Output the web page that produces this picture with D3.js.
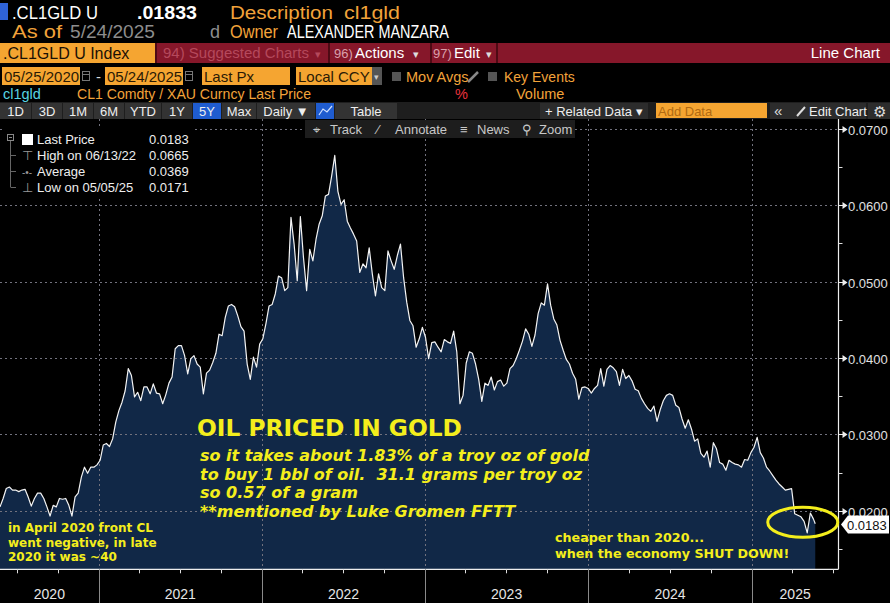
<!DOCTYPE html>
<html>
<meta charset="UTF-8" />
<script src="https://cdn.jsdelivr.net/npm/d3@7"></script>
<style>
*{margin:0; padding:0;}
body{background:#000; width:890px; height:603px; overflow:hidden;}
</style>
<body>
<div id="chart"></div>
<script>
// weekly closes of CL1 / XAU, first week starts 05/25/2020
var startDate = "2020-05-25";
var weeklyValues = [
	0.0205, 0.0216, 0.0229, 0.0231, 0.0227, 0.0227, 0.0225, 0.0227, 0.0228, 0.0218,
	0.0206, 0.0216, 0.0223, 0.0223, 0.0216, 0.0205, 0.0193, 0.0207, 0.0205, 0.0216,
	0.0215, 0.0216, 0.0207, 0.0193, 0.0218, 0.0223, 0.0244, 0.0257, 0.0249, 0.0257,
	0.0257, 0.0260, 0.0266, 0.0286, 0.0288, 0.0284, 0.0294, 0.0316, 0.0331, 0.0342,
	0.0357, 0.0386, 0.0377, 0.0349, 0.0355, 0.0344, 0.0362, 0.0362, 0.0353, 0.0366,
	0.0354, 0.0353, 0.0340, 0.0352, 0.0367, 0.0375, 0.0412, 0.0416, 0.0416, 0.0403,
	0.0379, 0.0399, 0.0403, 0.0392, 0.0388, 0.0353, 0.0380, 0.0384, 0.0394, 0.0406,
	0.0431, 0.0429, 0.0453, 0.0468, 0.0470, 0.0467, 0.0455, 0.0441, 0.0435, 0.0392,
	0.0372, 0.0401, 0.0388, 0.0418, 0.0425, 0.0445, 0.0468, 0.0470, 0.0484, 0.0507,
	0.0505, 0.0488, 0.0492, 0.0584, 0.0549, 0.0501, 0.0585, 0.0531, 0.0488, 0.0542,
	0.0527, 0.0555, 0.0575, 0.0586, 0.0612, 0.0614, 0.0638, 0.0665, 0.0618, 0.0601,
	0.0607, 0.0579, 0.0570, 0.0562, 0.0553, 0.0512, 0.0523, 0.0518, 0.0544, 0.0510,
	0.0481, 0.0510, 0.0492, 0.0488, 0.0540, 0.0527, 0.0516, 0.0534, 0.0549, 0.0505,
	0.0473, 0.0449, 0.0442, 0.0414, 0.0425, 0.0440, 0.0427, 0.0399, 0.0420, 0.0421,
	0.0414, 0.0408, 0.0424, 0.0421, 0.0419, 0.0435, 0.0408, 0.0340, 0.0351, 0.0393,
	0.0408, 0.0406, 0.0392, 0.0372, 0.0343, 0.0367, 0.0364, 0.0375, 0.0358, 0.0369,
	0.0371, 0.0363, 0.0367, 0.0386, 0.0390, 0.0399, 0.0410, 0.0422, 0.0438, 0.0431,
	0.0415, 0.0430, 0.0458, 0.0472, 0.0469, 0.0497, 0.0469, 0.0451, 0.0443, 0.0423,
	0.0410, 0.0398, 0.0392, 0.0380, 0.0372, 0.0346, 0.0361, 0.0362, 0.0360, 0.0354,
	0.0360, 0.0364, 0.0386, 0.0363, 0.0385, 0.0390, 0.0387, 0.0382, 0.0364, 0.0385,
	0.0373, 0.0377, 0.0370, 0.0359, 0.0357, 0.0347, 0.0340, 0.0334, 0.0330, 0.0337,
	0.0317, 0.0332, 0.0344, 0.0351, 0.0353, 0.0351, 0.0338, 0.0335, 0.0320, 0.0308,
	0.0319, 0.0307, 0.0291, 0.0294, 0.0275, 0.0270, 0.0278, 0.0257, 0.0289, 0.0281,
	0.0263, 0.0261, 0.0253, 0.0266, 0.0263, 0.0261, 0.0260, 0.0257, 0.0267, 0.0266,
	0.0276, 0.0283, 0.0296, 0.0276, 0.0269, 0.0257, 0.0252, 0.0246, 0.0240, 0.0235,
	0.0231, 0.0227, 0.0228, 0.0229, 0.0196, 0.0194, 0.0192, 0.0186, 0.0171, 0.0197,
	0.0189
];
var lastDate = "2025-05-23";
var lastPrice = 0.0183;

var yTicks = [0.07, 0.06, 0.05, 0.04, 0.03, 0.02];
var yMinorTicks = [0.065, 0.055, 0.045, 0.035, 0.025, 0.015];
var yearLabels = ["2020", "2021", "2022", "2023", "2024", "2025"];

var legendRows = [
	["Last Price", "0.0183"],
	["High on 06/13/22", "0.0665"],
	["Average", "0.0369"],
	["Low on 05/05/25", "0.0171"]
];

var bigNote = ["so it takes about 1.83% of a troy oz of gold",
	"to buy 1 bbl of oil.  31.1 grams per troy oz",
	"so 0.57 of a gram",
	"**mentioned by Luke Gromen FFTT"];
var leftNote = ["in April 2020 front CL", "went negative, in late", "2020 it was ~40"];
var rightNote = ["cheaper than 2020...", "when the economy SHUT DOWN!"];

var W = 890, H = 603;
var ORANGE = "#f2a33a", YEL = "#f4ee1c";
var UI = "Liberation Sans", NOTE = "DejaVu Sans";
var parse = d3.timeParse("%Y-%m-%d");

var data = weeklyValues.map(function(v, i) {
	return {date: d3.timeDay.offset(parse(startDate), i * 7), value: v};
});
data.push({date: parse(lastDate), value: lastPrice});

var svg = d3.select("#chart").append("svg")
	.attr("width", W).attr("height", H);
svg.append("rect").attr("width", W).attr("height", H).attr("fill", "#000");

// ---------- header ----------
function txt(g, x, y, s, size, color, extra) {
	var t = g.append("text").attr("x", x).attr("y", y).text(s)
		.style("font-family", UI).style("white-space", "pre")
		.attr("font-size", size).attr("fill", color);
	if (extra) for (var k in extra) {
		if (k == "font-family") t.style(k, extra[k]);
		else t.attr(k, extra[k]);
	}
	return t;
}
function fit(t, len) {
	return t.attr("textLength", len).attr("lengthAdjust", "spacingAndGlyphs");
}
var hd = svg.append("g");
hd.append("rect").attr("x", 0).attr("y", 3).attr("width", 8).attr("height", 17).attr("fill", "#2f63d8");
fit(txt(hd, 12, 19, ".CL1GLD U", 18, "#fff"), 86);
fit(txt(hd, 137, 19, ".01833", 18, "#fff", {"font-weight": "bold"}), 60);
fit(txt(hd, 230, 19, "Description", 18, ORANGE), 103);
fit(txt(hd, 344, 19, "cl1gld", 18, ORANGE), 56);
fit(txt(hd, 12, 38, "As of", 18, ORANGE), 50);
fit(txt(hd, 70, 38, "5/24/2025", 18, "#8d8d8d"), 85);
txt(hd, 210, 38, "d", 18, "#8d8d8d");
fit(txt(hd, 230, 38, "Owner", 18, ORANGE), 48);
fit(txt(hd, 287, 38, "ALEXANDER MANZARA", 18, "#fff"), 162);

// red action bar
hd.append("rect").attr("x", 0).attr("y", 43).attr("width", W).attr("height", 20).attr("fill", "#86172a");
hd.append("rect").attr("x", 0).attr("y", 43).attr("width", 155).attr("height", 20).attr("fill", "#f5a531");
txt(hd, 3, 59, ".CL1GLD U Index", 16, "#1a1005");
[155, 328, 430, 496].forEach(function(x) {
	hd.append("rect").attr("x", x).attr("y", 43).attr("width", 2).attr("height", 20).attr("fill", "#4e0a14");
});
fit(txt(hd, 163, 58, "94) Suggested Charts", 14, "#b5495c"), 146);
txt(hd, 315, 58, "\u25BE", 11, "#b5495c");
txt(hd, 334, 58, "96)", 13, "#d9a0aa");
txt(hd, 355, 58, "Actions", 15, "#fff");
txt(hd, 413, 58, "\u25BE", 11, "#ddd");
txt(hd, 433, 58, "97)", 13, "#d9a0aa");
txt(hd, 454, 58, "Edit", 15, "#fff");
txt(hd, 486, 58, "\u25BE", 11, "#ddd");
txt(hd, 880, 58, "Line Chart", 15, "#fff", {"text-anchor": "end"});

// date range row
[[2, 78, "05/25/2020"], [105, 78, "05/24/2025"], [202, 88, "Last Px"], [296, 76, "Local CCY"]].forEach(function(b) {
	hd.append("rect").attr("x", b[0]).attr("y", 67).attr("width", b[1]).attr("height", 18).attr("fill", "#f5a531");
	txt(hd, b[0] + 2, 82, b[2], 15, "#2a1a05");
});
[82, 185].forEach(function(x) {
	hd.append("rect").attr("x", x + 0.5).attr("y", 71.5).attr("width", 7).attr("height", 9)
		.attr("fill", "none").attr("stroke", "#777");
	hd.append("line").attr("x1", x).attr("x2", x + 8).attr("y1", 74.5).attr("y2", 74.5).attr("stroke", "#777");
});
txt(hd, 96, 82, "-", 15, "#ddd");
hd.append("rect").attr("x", 372).attr("y", 67).attr("width", 10).attr("height", 18).attr("fill", "#555");
txt(hd, 374, 80, "\u25BE", 9, "#ccc");
[392, 488].forEach(function(x) {
	hd.append("rect").attr("x", x).attr("y", 72).attr("width", 9).attr("height", 9).attr("fill", "#555");
});
txt(hd, 406, 82, "Mov Avgs", 14.5, ORANGE);
hd.append("line").attr("x1", 468).attr("y1", 82).attr("x2", 478).attr("y2", 72)
	.attr("stroke", "#888").attr("stroke-width", 2.5);
txt(hd, 504, 82, "Key Events", 14, ORANGE);

txt(hd, 3, 99, "cl1gld", 14.5, "#58d4e3");
fit(txt(hd, 77, 99, "CL1 Comdty / XAU Curncy Last Price", 14.5, ORANGE), 234);
txt(hd, 455, 99, "%", 14.5, "#e8323c");
txt(hd, 516, 99, "Volume", 14.5, ORANGE);

// period toolbar
hd.append("rect").attr("x", 0).attr("y", 102).attr("width", W).attr("height", 17).attr("fill", "#1e1e1e");
var periods = [[0, 31, "1D"], [32, 30, "3D"], [63, 30, "1M"], [94, 30, "6M"], [125, 36, "YTD"],
	[162, 30, "1Y"], [193, 28, "5Y"], [222, 34, "Max"], [257, 58, "Daily \u25BC"], [316, 18, ""], [335, 62, "Table"]];
periods.forEach(function(p) {
	var sel = p[2] == "5Y" || p[2] == "";
	hd.append("rect").attr("x", p[0]).attr("y", 103).attr("width", p[1]).attr("height", 16)
		.attr("fill", sel ? "#1f5ccf" : "#333");
	txt(hd, p[0] + p[1] / 2, 116, p[2], 13, "#eee", {"text-anchor": "middle"});
});
hd.append("path").attr("d", "M319,115 L323,109 L327,112 L332,106")
	.attr("fill", "none").attr("stroke", "#cfe0ff").attr("stroke-width", 1.2);
hd.append("rect").attr("x", 540).attr("y", 103).attr("width", 108).attr("height", 16).attr("fill", "#2c2c2c");
txt(hd, 545, 116, "+ Related Data \u25BE", 13, "#eee");
hd.append("rect").attr("x", 656).attr("y", 103).attr("width", 111).attr("height", 15).attr("fill", "#f5a531");
txt(hd, 658, 116, "Add Data", 13, "#b06a12");
hd.append("rect").attr("x", 770).attr("y", 103).attr("width", 96).attr("height", 16).attr("fill", "#2c2c2c");
txt(hd, 774, 116, "\u00AB", 15, "#ddd");
hd.append("line").attr("x1", 797).attr("y1", 116).attr("x2", 805).attr("y2", 107)
	.attr("stroke", "#ddd").attr("stroke-width", 2);
txt(hd, 809, 116, "Edit Chart", 13, "#eee");
hd.append("rect").attr("x", 868).attr("y", 103).attr("width", 22).attr("height", 16).attr("fill", "#2c2c2c");
txt(hd, 879, 117, "\u2699", 15, "#ddd", {"text-anchor": "middle"});

// ---------- chart ----------
var plotTop = 119, plotBottom = 569.3, plotRight = 838.5;
var x = d3.scaleTime()
	.domain([parse("2020-05-25"), parse("2025-07-14")])
	.range([0, plotRight]);
var y = d3.scaleLinear()
	.domain([0.01233, 0.07127])
	.range([plotBottom, plotTop]);

var area = d3.area()
	.x(function(d){ return x(d.date); })
	.y0(plotBottom)
	.y1(function(d){ return y(d.value); });
svg.append("path").datum(data).attr("d", area).attr("fill", "#112847");

var grid = svg.append("g");
var years = d3.timeYear.range(parse("2021-01-01"), parse("2025-06-01"));
grid.selectAll(".vg").data(years).enter().append("line")
	.attr("x1", function(d){ return Math.round(x(d)) + 0.5; })
	.attr("x2", function(d){ return Math.round(x(d)) + 0.5; })
	.attr("y1", plotTop).attr("y2", plotBottom)
	.attr("stroke", "#72727e").attr("stroke-dasharray", "2,3");
grid.selectAll(".hg").data(yTicks).enter().append("line")
	.attr("x1", 0).attr("x2", plotRight)
	.attr("y1", function(d){ return Math.round(y(d)) + 0.5; })
	.attr("y2", function(d){ return Math.round(y(d)) + 0.5; })
	.attr("stroke", "#72727e").attr("stroke-dasharray", "2,3");

var line = d3.line()
	.x(function(d){ return x(d.date); })
	.y(function(d){ return y(d.value); });
svg.append("path").datum(data).attr("d", line)
	.attr("fill", "none").attr("stroke", "#f4f4f4").attr("stroke-width", 1.2)
	.attr("stroke-linejoin", "round");

// top strip (track / annotate / news / zoom)
var strip = svg.append("g");
strip.append("rect").attr("x", 305).attr("y", 120).attr("width", 270).attr("height", 18).attr("fill", "#1d1d1d");
[[313, "\u2316"], [330, "Track"], [377, "\u2215"], [395, "Annotate"], [460, "\u2261"], [477, "News"], [522, "\u26B2"], [539, "Zoom"]]
	.forEach(function(t) {
		txt(strip, t[0], 134, t[1], 13, "#c8c8c8");
	});

// legend
var lg = svg.append("g");
lg.append("rect").attr("x", 2).attr("y", 129).attr("width", 193).attr("height", 69).attr("fill", "#000");
lg.append("rect").attr("x", 7.5).attr("y", 134.5).attr("width", 6).attr("height", 6).attr("fill", "none").attr("stroke", "#888");
lg.append("line").attr("x1", 9).attr("x2", 12).attr("y1", 137.5).attr("y2", 137.5).attr("stroke", "#888");
lg.append("line").attr("x1", 10.5).attr("x2", 10.5).attr("y1", 141).attr("y2", 187).attr("stroke", "#666");
lg.append("rect").attr("x", 22).attr("y", 134).attr("width", 11).attr("height", 11).attr("fill", "#fff");
legendRows.forEach(function(r, i) {
	var by = 144 + i * 16;
	if (i > 0) {
		lg.append("line").attr("x1", 10.5).attr("x2", 16).attr("y1", by - 4.5).attr("y2", by - 4.5).attr("stroke", "#666");
		txt(lg, 27, by, ["", "\u22A4", "-\u2022-", "\u22A5"][i], i == 2 ? 10 : 13, "#999", {"text-anchor": "middle"});
	}
	txt(lg, 37, by, r[0], 13, "#eee");
	txt(lg, 149, by, r[1], 13, "#eee");
});

// axes
var ax = svg.append("g");
ax.append("line").attr("x1", 0).attr("x2", plotRight).attr("y1", plotBottom).attr("y2", plotBottom)
	.attr("stroke", "#eee").attr("stroke-width", 1.2);
ax.append("line").attr("x1", plotRight).attr("x2", plotRight).attr("y1", plotTop).attr("y2", plotBottom)
	.attr("stroke", "#eee").attr("stroke-width", 1.2);
var quarters = d3.timeMonth.every(3).range(parse("2020-06-01"), parse("2025-07-10"));
ax.selectAll(".qt").data(quarters).enter().append("line")
	.attr("x1", function(d){ return Math.round(x(d)) + 0.5; })
	.attr("x2", function(d){ return Math.round(x(d)) + 0.5; })
	.attr("y1", plotBottom).attr("y2", plotBottom + 4).attr("stroke", "#ddd");
ax.selectAll(".ys").data(years).enter().append("line")
	.attr("x1", function(d){ return Math.round(x(d)) + 0.5; })
	.attr("x2", function(d){ return Math.round(x(d)) + 0.5; })
	.attr("y1", plotBottom).attr("y2", H).attr("stroke", "#8a8a8a");
var yearEdges = [parse("2020-05-25")].concat(years).concat([x.domain()[1]]);
ax.selectAll(".yl").data(yearLabels).enter().append("text")
	.attr("x", function(d, i){ return (x(yearEdges[i]) + x(yearEdges[i + 1])) / 2; })
	.attr("y", 599).attr("text-anchor", "middle").style("font-family", UI)
	.attr("font-size", 14).attr("fill", "#e6e6e6").text(function(d){ return d; });

ax.selectAll(".ymt").data(yMinorTicks).enter().append("line")
	.attr("x1", plotRight).attr("x2", plotRight + 4)
	.attr("y1", function(d){ return Math.round(y(d)) + 0.5; })
	.attr("y2", function(d){ return Math.round(y(d)) + 0.5; })
	.attr("stroke", "#ddd");
var yt = ax.selectAll(".yt").data(yTicks).enter().append("g")
	.attr("transform", function(d){ return "translate(" + plotRight + "," + (Math.round(y(d)) + 0.5) + ")"; });
yt.append("line").attr("x1", 0).attr("x2", 6).attr("stroke", "#eee");
yt.append("path").attr("d", "M4,-3.5 L9,0 L4,3.5 Z").attr("fill", "#eee");
yt.append("text").attr("x", 9.5).attr("y", 5).attr("font-size", 13).attr("fill", "#e0e0e0")
	.style("font-family", UI)
	.text(function(d){ return d3.format(".4f")(d); });

// last price tag
var ly = Math.round(y(lastPrice)) + 0.5;
ax.append("path")
	.attr("d", "M841," + ly + " L848," + (ly - 9) + " L889," + (ly - 9) + " L889," + (ly + 9) + " L848," + (ly + 9) + " Z")
	.attr("fill", "#fff");
txt(ax, 847, ly + 5, "0.0183", 13, "#111");

// ---------- annotations ----------
var an = svg.append("g");
txt(an, 197, 436, "OIL PRICED IN GOLD", 23.3, YEL, {"font-weight": "bold", "font-family": NOTE});
bigNote.forEach(function(s, i) {
	txt(an, 200, 461 + i * 18.5, s, 16, YEL, {"font-weight": "bold", "font-style": "italic", "font-family": NOTE});
});
leftNote.forEach(function(s, i) {
	txt(an, 8, 532 + i * 14.7, s, 12, YEL, {"font-weight": "bold", "font-family": NOTE});
});
rightNote.forEach(function(s, i) {
	txt(an, 555, 542 + i * 16, s, 12.7, YEL, {"font-weight": "bold", "font-family": NOTE});
});
svg.append("ellipse").attr("cx", x(parse("2025-04-25"))).attr("cy", y(0.0185))
	.attr("rx", 35).attr("ry", 15)
	.attr("fill", "none").attr("stroke", YEL).attr("stroke-width", 3);
</script>
</body>
</html>
